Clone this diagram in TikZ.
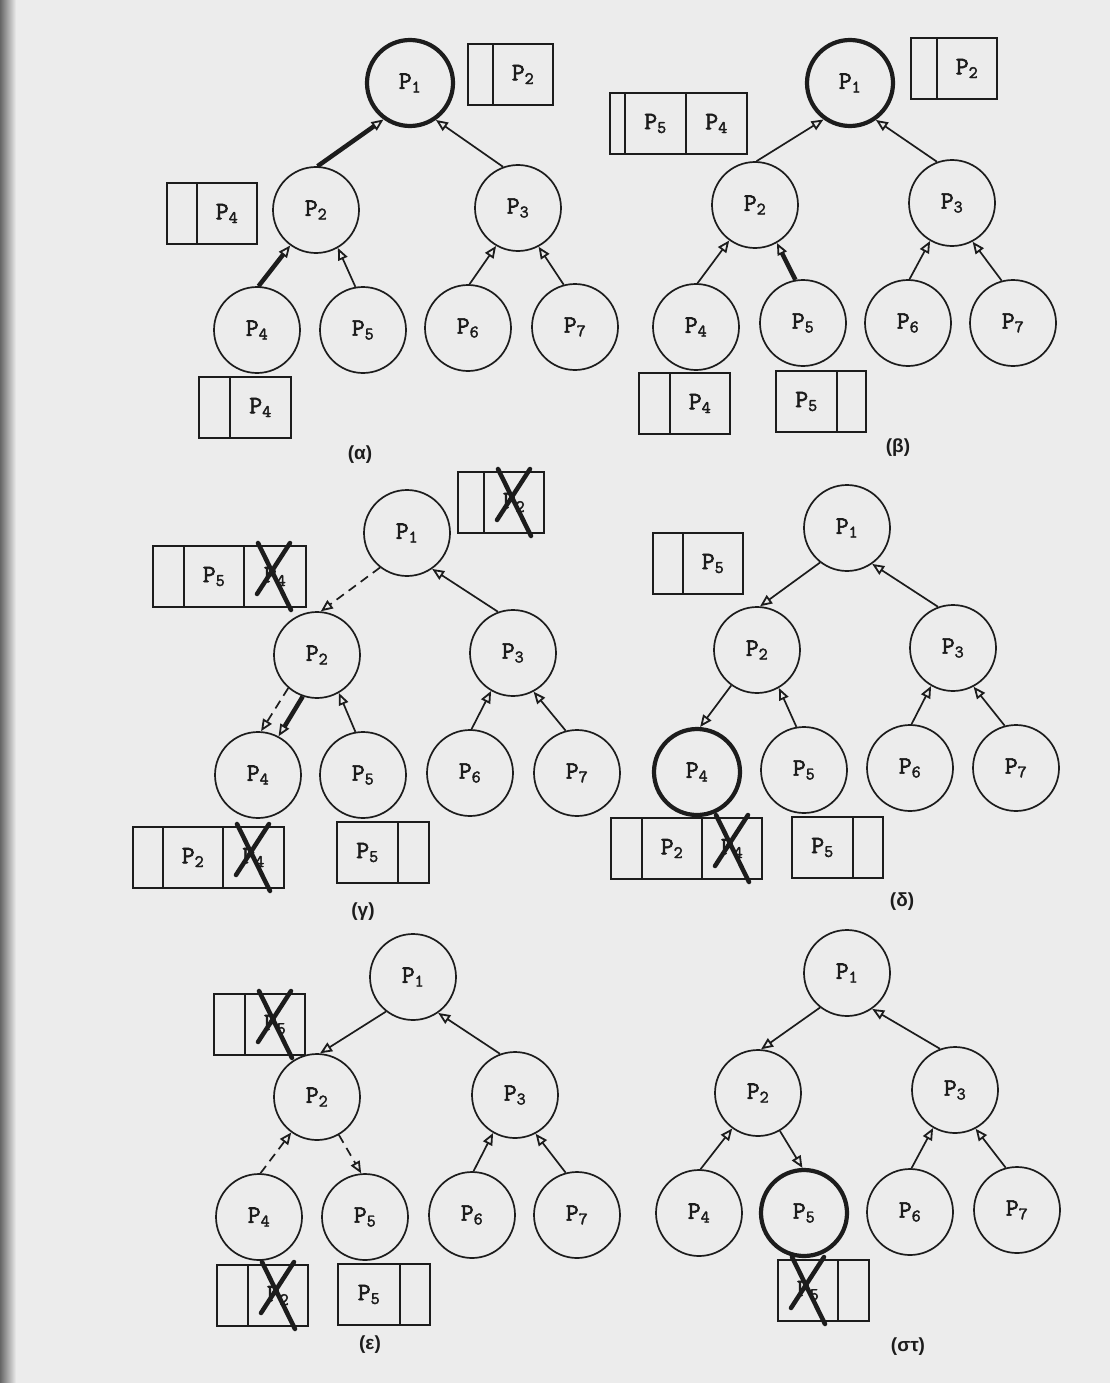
\documentclass[tikz,border=0pt]{standalone}
\usepackage{fontspec}
\newfontfamily\procfont{Latin Modern Mono}[FakeBold=2.4]
\newfontfamily\capfont{Liberation Sans}
\usepackage{tikz}
\usetikzlibrary{arrows.meta, positioning}
\newcommand{\pn}[1]{P\textsubscript{#1}}
\definecolor{paper}{RGB}{236,236,236}
\definecolor{ink}{RGB}{28,28,28}

\begin{document}
\begin{tikzpicture}[x=1pt, y=-1pt, color=ink, line width=1.7pt,
    proc/.style={circle, draw, minimum size=86pt, inner sep=0pt, font=\procfont\fontsize{25}{25}\selectfont},
    holder/.style={proc, line width=4.2pt},
    cell/.style={rectangle, draw, minimum height=61pt, inner sep=0pt, outer sep=0pt, font=\procfont\fontsize{25}{25}\selectfont},
    narrow/.style={cell, minimum width=30pt},
    wide/.style={cell, minimum width=61pt},
    link/.style={-{Triangle[open, length=12pt, width=10pt, line width=1.8pt]}},
    heavy/.style={link, line width=4.5pt},
    msg/.style={link, dash pattern=on 9pt off 6pt},
    xmark/.style={line width=4.5pt, line cap=round},
    caption/.style={font=\capfont\bfseries\fontsize{19}{19}\selectfont}]
        \fill[paper] (0,0) rectangle (1110,1383);
        \shade[left color=black!60, right color=paper] (0,0) rectangle (16,1383);
        \useasboundingbox (0,0) rectangle (1110,1383);
        % (a) P4 asks for the token
        \node[holder] (a1) at (410,83) {\pn{1}};
        \node[proc] (a2) at (316,210) {\pn{2}}; \node[proc] (a3) at (518,208) {\pn{3}};
        \node[proc] (a4) at (257,330) {\pn{4}}; \node[proc] (a5) at (363,330) {\pn{5}};
        \node[proc] (a6) at (468,328) {\pn{6}}; \node[proc] (a7) at (575,327) {\pn{7}};
        \draw[heavy] (a2.88) -- (a1.234); \draw[link] (a3.110) -- (a1.305);
        \draw[heavy] (a4.88) -- (a2.234); \draw[link] (a5.100) -- (a2.300);
        \draw[link] (a6.88) -- (a3.240); \draw[link] (a7.105) -- (a3.298);
        \node[narrow, minimum width=25pt, anchor=north west] (aq1a) at (468,44) {}; \node[wide, minimum width=60pt, right=0pt of aq1a] (aq1b) {\pn{2}};
        \node[narrow, anchor=north west] (aq2a) at (167,183) {}; \node[wide, minimum width=60pt, right=0pt of aq2a] (aq2b) {\pn{4}};
        \node[narrow, minimum width=31pt, anchor=north west] (aq4a) at (199,377) {}; \node[wide, right=0pt of aq4a] (aq4b) {\pn{4}};
        \node[caption] (acap) at (360,455) {(α)};
        % (b) P5 asks too
        \node[holder] (b1) at (850,83) {\pn{1}};
        \node[proc] (b2) at (755,205) {\pn{2}}; \node[proc] (b3) at (952,203) {\pn{3}};
        \node[proc] (b4) at (696,327) {\pn{4}}; \node[proc] (b5) at (803,323) {\pn{5}};
        \node[proc] (b6) at (908,323) {\pn{6}}; \node[proc] (b7) at (1013,323) {\pn{7}};
        \draw[link] (b2.88) -- (b1.234); \draw[link] (b3.110) -- (b1.305);
        \draw[link] (b4.88) -- (b2.234); \draw[heavy] (b5.100) -- (b2.300);
        \draw[link] (b6.88) -- (b3.240); \draw[link] (b7.105) -- (b3.298);
        \node[narrow, minimum width=26pt, anchor=north west] (bq1a) at (911,38) {}; \node[wide, minimum width=60pt, right=0pt of bq1a] (bq1b) {\pn{2}};
        \node[narrow, minimum width=15pt, anchor=north west] (bq2a) at (610,93) {}; \node[wide, right=0pt of bq2a] (bq2b) {\pn{5}}; \node[wide, right=0pt of bq2b] (bq2c) {\pn{4}};
        \node[narrow, minimum width=31pt, anchor=north west] (bq4a) at (639,373) {}; \node[wide, minimum width=60pt, right=0pt of bq4a] (bq4b) {\pn{4}};
        \node[wide, anchor=north west] (bq5a) at (776,371) {\pn{5}}; \node[narrow, minimum width=29pt, right=0pt of bq5a] (bq5b) {};
        \node[caption] (bcap) at (898,448) {(β)};
        % (g) token goes down to P4
        \node[proc] (g1) at (407,533) {\pn{1}};
        \node[proc] (g2) at (317,655) {\pn{2}}; \node[proc] (g3) at (513,653) {\pn{3}};
        \node[proc] (g4) at (258,775) {\pn{4}}; \node[proc] (g5) at (363,775) {\pn{5}};
        \node[proc] (g6) at (470,773) {\pn{6}}; \node[proc] (g7) at (577,773) {\pn{7}};
        \draw[msg] (g1.232) -- (g2.85); \draw[link] (g3.110) -- (g1.305);
        \draw[msg] (g2.229) -- (g4.86); \draw[heavy] (g2.251) -- (g4.62); \draw[link] (g5.100) -- (g2.300);
        \draw[link] (g6.88) -- (g3.240); \draw[link] (g7.105) -- (g3.298);
        \node[narrow, minimum width=26pt, anchor=north west] (gq1a) at (458,472) {}; \node[wide, minimum width=60pt, right=0pt of gq1a] (gq1b) {\pn{2}};
        \node[narrow, minimum width=31pt, anchor=north west] (gq2a) at (153,546) {}; \node[wide, minimum width=60pt, right=0pt of gq2a] (gq2b) {\pn{5}}; \node[wide, minimum width=62pt, right=0pt of gq2b] (gq2c) {\pn{4}};
        \node[narrow, anchor=north west] (gq4a) at (133,827) {}; \node[wide, minimum width=60pt, right=0pt of gq4a] (gq4b) {\pn{2}}; \node[wide, right=0pt of gq4b] (gq4c) {\pn{4}};
        \node[wide, anchor=north west] (gq5a) at (337,822) {\pn{5}}; \node[narrow, minimum width=31pt, right=0pt of gq5a] (gq5b) {};
        \node[caption] (gcap) at (363,912) {(γ)};
        % (d) P4 holds the token
        \node[proc] (d1) at (847,528) {\pn{1}};
        \node[proc] (d2) at (757,650) {\pn{2}}; \node[proc] (d3) at (953,648) {\pn{3}};
        \node[holder] (d4) at (697,772) {\pn{4}}; \node[proc] (d5) at (804,770) {\pn{5}};
        \node[proc] (d6) at (910,768) {\pn{6}}; \node[proc] (d7) at (1016,768) {\pn{7}};
        \draw[link] (d1.232) -- (d2.86); \draw[link] (d3.110) -- (d1.305);
        \draw[link] (d2.234) -- (d4.86); \draw[link] (d5.100) -- (d2.300);
        \draw[link] (d6.88) -- (d3.240); \draw[link] (d7.105) -- (d3.298);
        \node[narrow, anchor=north west] (dq2a) at (653,533) {}; \node[wide, minimum width=60pt, right=0pt of dq2a] (dq2b) {\pn{5}};
        \node[narrow, minimum width=31pt, anchor=north west] (dq4a) at (611,818) {}; \node[wide, minimum width=60pt, right=0pt of dq4a] (dq4b) {\pn{2}}; \node[wide, minimum width=60pt, right=0pt of dq4b] (dq4c) {\pn{4}};
        \node[wide, anchor=north west] (dq5a) at (792,817) {\pn{5}}; \node[narrow, right=0pt of dq5a] (dq5b) {};
        \node[caption] (dcap) at (902,902) {(δ)};
        % (e) token back up to P2, then to P5
        \node[proc] (e1) at (413,977) {\pn{1}};
        \node[proc] (e2) at (317,1097) {\pn{2}}; \node[proc] (e3) at (515,1095) {\pn{3}};
        \node[proc] (e4) at (259,1217) {\pn{4}}; \node[proc] (e5) at (365,1217) {\pn{5}};
        \node[proc] (e6) at (472,1215) {\pn{6}}; \node[proc] (e7) at (577,1215) {\pn{7}};
        \draw[link] (e1.232) -- (e2.86); \draw[link] (e3.110) -- (e1.305);
        \draw[msg] (e4.88) -- (e2.234); \draw[msg] (e2.300) -- (e5.95);
        \draw[link] (e6.88) -- (e3.240); \draw[link] (e7.105) -- (e3.298);
        \node[narrow, minimum width=31pt, anchor=north west] (eq2a) at (214,994) {}; \node[wide, minimum width=60pt, right=0pt of eq2a] (eq2b) {\pn{5}};
        \node[narrow, minimum width=31pt, anchor=north west] (eq4a) at (217,1265) {}; \node[wide, minimum width=60pt, right=0pt of eq4a] (eq4b) {\pn{2}};
        \node[wide, minimum width=62pt, anchor=north west] (eq5a) at (338,1264) {\pn{5}}; \node[narrow, right=0pt of eq5a] (eq5b) {};
        \node[caption] (ecap) at (370,1345) {(ε)};
        % (st) P5 holds the token
        \node[proc] (s1) at (847,973) {\pn{1}};
        \node[proc] (s2) at (758,1093) {\pn{2}}; \node[proc] (s3) at (955,1090) {\pn{3}};
        \node[proc] (s4) at (699,1213) {\pn{4}}; \node[holder] (s5) at (804,1213) {\pn{5}};
        \node[proc] (s6) at (910,1212) {\pn{6}}; \node[proc] (s7) at (1017,1210) {\pn{7}};
        \draw[link] (s1.232) -- (s2.86); \draw[link] (s3.110) -- (s1.305);
        \draw[link] (s4.88) -- (s2.234); \draw[link] (s2.300) -- (s5.92);
        \draw[link] (s6.88) -- (s3.240); \draw[link] (s7.105) -- (s3.298);
        \node[wide, minimum width=60pt, anchor=north west] (sq5a) at (778,1260) {\pn{5}}; \node[narrow, minimum width=31pt, right=0pt of sq5a] (sq5b) {};
        \node[caption] (scap) at (908,1347) {(στ)};
        % served requests crossed out
        \foreach \c in {gq1b,gq2c,gq4c,dq4c,eq2b,eq4b,sq5a}
            \draw[xmark] ([shift={(14,-3)}]\c.north west) -- ([shift={(47,64)}]\c.north west)
                         ([shift={(46,-3)}]\c.north west) -- ([shift={(13,48)}]\c.north west);
    \end{tikzpicture}
\end{document}
